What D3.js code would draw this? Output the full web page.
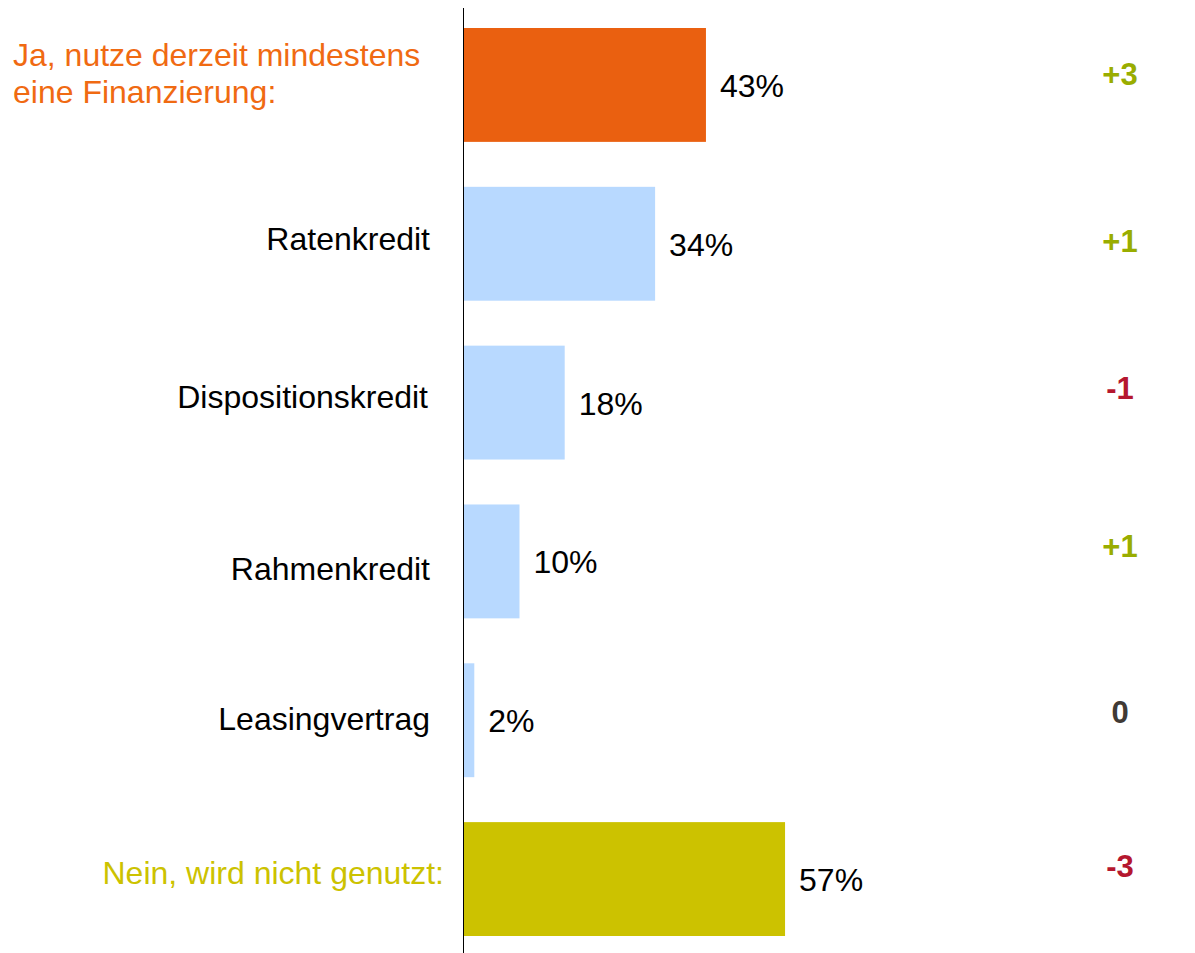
<!DOCTYPE html>
<html>
<head>
<meta charset="utf-8">
<script src="https://cdn.jsdelivr.net/npm/d3@7"></script>
<style>
  body { margin: 0; background: #fff; }
  text { font-family: "Liberation Sans", Arial, sans-serif; }
</style>
</head>
<body>
<div id="chart"></div>
<script>
// data
var categories = ["Ja", "Ratenkredit", "Dispositionskredit", "Rahmenkredit", "Leasingvertrag", "Nein"];
var labels = [["Ja, nutze derzeit mindestens", "eine Finanzierung:"], ["Ratenkredit"], ["Dispositionskredit"], ["Rahmenkredit"], ["Leasingvertrag"], ["Nein, wird nicht genutzt:"]];
var values = [43, 34, 18, 10, 2, 57];
var changes = ["+3", "+1", "-1", "+1", "0", "-3"];

// chart size
var width = 1195;
var height = 953;
var axisX = 463;
var fontSize = 32;

// small vertical nudges so labels sit where the original has them
var labelShift = [0, 6, 5, 19, 10, 5];
var changeShift = [0, 8, -4, -4, 3, -2];

var barColors = ["#EA6010", "#B8D9FF", "#B8D9FF", "#B8D9FF", "#B8D9FF", "#CCC200"];
var labelColors = ["#F06A12", "#000", "#000", "#000", "#000", "#CCC200"];

function changeColor(c) {
  if (c.charAt(0) === "+") return "#99AD00";
  if (c.charAt(0) === "-") return "#B5172F";
  return "#403A35";
}

var svg = d3.select("#chart")
  .append("svg")
  .attr("width", width)
  .attr("height", height);

var yScale = d3.scaleBand()
  .domain(categories)
  .range([28, 936])
  .paddingInner(0.283)
  .paddingOuter(0);

var xScale = d3.scaleLinear()
  .domain([0, 100])
  .range([axisX, axisX + 565]);

// bars
svg.selectAll("rect.bar")
  .data(categories)
  .enter()
  .append("rect")
  .attr("class", "bar")
  .attr("x", xScale(0))
  .attr("y", function(d) { return yScale(d); })
  .attr("width", function(d, i) { return xScale(values[i]) - xScale(0); })
  .attr("height", yScale.bandwidth())
  .attr("fill", function(d, i) { return barColors[i]; });

// vertical axis line
svg.append("line")
  .attr("x1", axisX + 0.5).attr("x2", axisX + 0.5)
  .attr("y1", 8).attr("y2", height)
  .attr("stroke", "#000")
  .attr("stroke-width", 1)
  .attr("shape-rendering", "crispEdges");

// value labels
svg.selectAll("text.val")
  .data(categories)
  .enter()
  .append("text")
  .attr("class", "val")
  .attr("x", function(d, i) { return xScale(values[i]) + 14; })
  .attr("y", function(d) { return yScale(d) + yScale.bandwidth() / 2 + 12; })
  .attr("font-size", fontSize)
  .attr("fill", "#000")
  .text(function(d, i) { return values[i] + "%"; });

// category labels
categories.forEach(function(c, i) {
  var mid = yScale(c) + yScale.bandwidth() / 2;
  if (i === 0) {
    // first one is two lines, left aligned
    svg.append("text")
      .attr("x", 13)
      .attr("y", 66)
      .attr("font-size", fontSize)
      .attr("fill", labelColors[i])
      .selectAll("tspan")
      .data(labels[i])
      .enter()
      .append("tspan")
      .attr("x", 13)
      .attr("dy", function(d, j) { return j === 0 ? 0 : 37; })
      .text(function(d) { return d; });
  }
  else {
    var right = i === 5 ? 444 : (i === 2 ? 428 : 430);
    svg.append("text")
      .attr("x", right)
      .attr("y", mid + labelShift[i])
      .attr("text-anchor", "end")
      .attr("font-size", fontSize)
      .attr("fill", labelColors[i])
      .text(labels[i][0]);
  }
});

// change column
svg.selectAll("text.chg")
  .data(categories)
  .enter()
  .append("text")
  .attr("class", "chg")
  .attr("x", 1120)
  .attr("y", function(d, i) { return yScale(d) + yScale.bandwidth() / 2 + changeShift[i]; })
  .attr("text-anchor", "middle")
  .attr("font-size", 31)
  .attr("font-weight", "bold")
  .attr("fill", function(d, i) { return changeColor(changes[i]); })
  .text(function(d, i) { return changes[i]; });
</script>
</body>
</html>
